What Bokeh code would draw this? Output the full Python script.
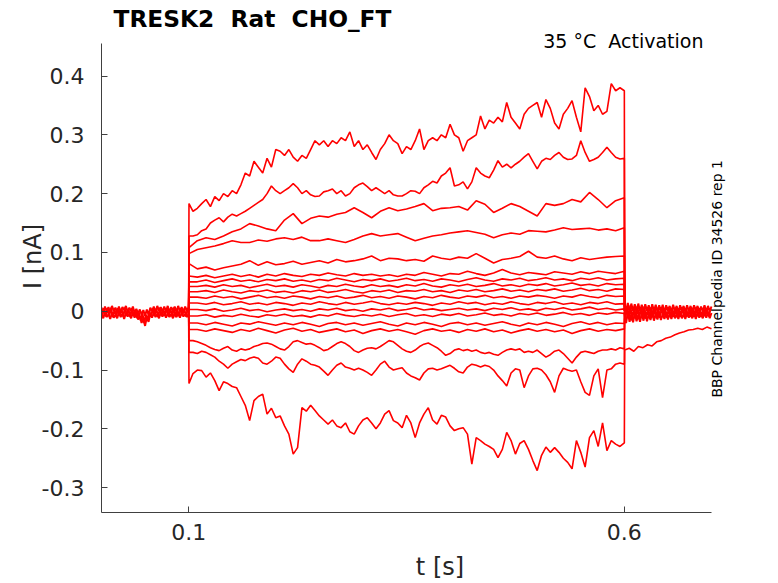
import numpy as np
from bokeh.plotting import figure
from bokeh.models import Label, Range1d, FixedTicker
from bokeh.embed import file_html
from bokeh.resources import INLINE

# ---------------- data ----------------
step_on = 0.1
step_off = 0.6
t_start, t_end = 0.0, 0.7
i_min, i_max = -0.3423, 0.4553

xtick_vals = [0.1, 0.6]
xtick_labels = ["0.1", "0.6"]
ytick_vals = [-0.3, -0.2, -0.1, 0.0, 0.1, 0.2, 0.3, 0.4]
ytick_labels = ["-0.3", "-0.2", "-0.1", "0", "0.1", "0.2", "0.3", "0.4"]

# baseline before the step (every 2 ms, 0 .. 0.1 s): noise band
base_hi = [0.006, -0.002, 0.008, 0.0, 0.007, -0.003, 0.009, 0.001, 0.006, -0.001,
           0.008, -0.002, 0.007, 0.002, 0.009, -0.001, 0.006, 0.0, 0.008, -0.003,
           0.004, -0.004, 0.003, -0.006, 0.002, -0.008, 0.003, -0.006, 0.006, 0.0,
           0.008, -0.002, 0.009, 0.001, 0.007, -0.001, 0.008, 0.0, 0.009, -0.002,
           0.007, 0.001, 0.008, -0.001, 0.009, 0.0, 0.007, -0.002, 0.008, 0.001, 0.006]
base_lo = [-0.004, -0.012, -0.002, -0.01, -0.005, -0.013, -0.003, -0.011, -0.006, -0.012,
           -0.002, -0.01, -0.004, -0.013, -0.003, -0.009, -0.005, -0.012, -0.002, -0.011,
           -0.004, -0.014, -0.008, -0.02, -0.012, -0.025, -0.01, -0.018, -0.004, -0.011,
           -0.003, -0.01, -0.005, -0.012, -0.002, -0.009, -0.004, -0.011, -0.003, -0.01,
           -0.005, -0.012, -0.002, -0.01, -0.004, -0.011, -0.003, -0.009, -0.005, -0.01, -0.004]
# (sampled half-way between, 0.001 .. 0.099 s)
base_mid = [-0.007, 0.005, -0.009, 0.004, -0.006, 0.006, -0.01, 0.003, -0.008, 0.005,
            -0.006, 0.004, -0.009, 0.006, -0.007, 0.003, -0.01, 0.005, -0.008, 0.002,
            -0.012, -0.002, -0.016, -0.004, -0.02, -0.006, -0.014, 0.0, -0.009, 0.005,
            -0.007, 0.004, -0.01, 0.006, -0.008, 0.003, -0.006, 0.005, -0.009, 0.004,
            -0.007, 0.006, -0.01, 0.003, -0.008, 0.005, -0.006, 0.004, -0.009, 0.005]

# tail after the step (every 2 ms, 0.6 .. 0.7 s)
tail_hi = [0.012, 0.0, 0.014, -0.002, 0.013, 0.001, 0.012, -0.003, 0.013, 0.0,
           0.011, -0.002, 0.012, 0.001, 0.01, -0.002, 0.012, 0.0, 0.011, -0.001,
           0.01, 0.0, 0.011, -0.002, 0.01, 0.001, 0.009, -0.001, 0.011, 0.0,
           0.009, -0.002, 0.01, 0.001, 0.009, -0.001, 0.01, 0.0, 0.009, -0.002,
           0.01, 0.001, 0.009, -0.001, 0.008, 0.0, 0.01, -0.001, 0.009, 0.0, 0.008]
tail_lo = [-0.004, -0.02, -0.002, -0.018, -0.005, -0.019, -0.003, -0.017, -0.006, -0.018,
           -0.004, -0.016, -0.002, -0.017, -0.005, -0.015, -0.003, -0.016, -0.004, -0.014,
           -0.002, -0.015, -0.005, -0.013, -0.003, -0.014, -0.004, -0.013, -0.002, -0.012,
           -0.004, -0.013, -0.003, -0.012, -0.005, -0.013, -0.002, -0.011, -0.004, -0.012,
           -0.003, -0.013, -0.002, -0.011, -0.004, -0.012, -0.003, -0.011, -0.002, -0.012, -0.003]
# (sampled half-way between, 0.601 .. 0.699 s)
tail_mid = [-0.015, 0.008, -0.012, 0.01, -0.016, 0.006, -0.013, 0.009, -0.014, 0.007,
            -0.011, 0.008, -0.013, 0.005, -0.012, 0.007, -0.01, 0.006, -0.012, 0.005,
            -0.011, 0.007, -0.009, 0.004, -0.011, 0.006, -0.01, 0.005, -0.009, 0.006,
            -0.011, 0.004, -0.008, 0.006, -0.01, 0.005, -0.009, 0.004, -0.01, 0.006,
            -0.008, 0.005, -0.009, 0.003, -0.01, 0.005, -0.008, 0.004, -0.009, 0.005]
# slow tail of the most negative sweep (every 5 ms, 0.605 .. 0.7 s)
tail_neg = [-0.066, -0.063, -0.068, -0.06, -0.062, -0.057, -0.059, -0.052, -0.05, -0.046,
            -0.044, -0.04, -0.037, -0.035, -0.032, -0.031, -0.029, -0.031, -0.027, -0.03]

# sweeps sampled every 5 ms (0.105 .. 0.6 s)
i_sweep01 = [0.17, 0.175, 0.183, 0.19, 0.178, 0.195, 0.188, 0.2, 0.195, 0.205,
             0.2, 0.215, 0.235, 0.23, 0.255, 0.245, 0.235, 0.26, 0.245, 0.275,
             0.272, 0.265, 0.275, 0.262, 0.255, 0.265, 0.26, 0.275, 0.29, 0.283,
             0.29, 0.28, 0.29, 0.285, 0.295, 0.29, 0.305, 0.28, 0.29, 0.275,
             0.283, 0.27, 0.258, 0.275, 0.285, 0.3, 0.29, 0.285, 0.268, 0.28,
             0.275, 0.29, 0.31, 0.275, 0.29, 0.295, 0.29, 0.3, 0.295, 0.318,
             0.3, 0.295, 0.272, 0.29, 0.295, 0.3, 0.332, 0.31, 0.325, 0.32,
             0.33, 0.322, 0.355, 0.33, 0.32, 0.31, 0.335, 0.345, 0.35, 0.355,
             0.33, 0.36, 0.345, 0.32, 0.31, 0.335, 0.345, 0.358, 0.33, 0.305,
             0.38, 0.365, 0.341, 0.35, 0.335, 0.34, 0.387, 0.375, 0.38, 0.375]
i_sweep02 = [0.128, 0.13, 0.137, 0.14, 0.15, 0.155, 0.159, 0.152, 0.16, 0.165,
             0.162, 0.166, 0.17, 0.175, 0.18, 0.185, 0.19, 0.2, 0.213, 0.205,
             0.2, 0.205, 0.21, 0.217, 0.21, 0.2, 0.205, 0.198, 0.195, 0.196,
             0.203, 0.205, 0.208, 0.2, 0.205, 0.196, 0.2, 0.21, 0.215, 0.218,
             0.212, 0.205, 0.21, 0.205, 0.2, 0.205, 0.198, 0.196, 0.196, 0.2,
             0.205, 0.204, 0.2, 0.21, 0.215, 0.221, 0.218, 0.23, 0.235, 0.244,
             0.213, 0.215, 0.22, 0.208, 0.22, 0.244, 0.235, 0.23, 0.227, 0.24,
             0.256, 0.245, 0.25, 0.244, 0.25, 0.255, 0.262, 0.268, 0.255, 0.242,
             0.255, 0.26, 0.258, 0.265, 0.27, 0.262, 0.258, 0.259, 0.265, 0.29,
             0.27, 0.255, 0.258, 0.262, 0.27, 0.279, 0.27, 0.262, 0.259, 0.26]
i_sweep16 = [-0.05, -0.052, -0.055, -0.058, -0.062, -0.065, -0.067, -0.063, -0.06, -0.066,
             -0.068, -0.064, -0.066, -0.064, -0.06, -0.058, -0.055, -0.054, -0.056, -0.06,
             -0.064, -0.066, -0.06, -0.052, -0.05, -0.053, -0.056, -0.055, -0.058, -0.062,
             -0.067, -0.065, -0.06, -0.055, -0.052, -0.055, -0.06, -0.067, -0.07, -0.066,
             -0.063, -0.062, -0.064, -0.06, -0.055, -0.05, -0.052, -0.058, -0.064, -0.068,
             -0.07, -0.066, -0.06, -0.056, -0.054, -0.058, -0.062, -0.068, -0.075, -0.072,
             -0.066, -0.064, -0.067, -0.065, -0.068, -0.066, -0.07, -0.072, -0.07, -0.073,
             -0.075, -0.07, -0.066, -0.064, -0.066, -0.064, -0.07, -0.068, -0.07, -0.066,
             -0.072, -0.078, -0.074, -0.068, -0.066, -0.072, -0.08, -0.088, -0.078, -0.07,
             -0.068, -0.07, -0.072, -0.068, -0.066, -0.066, -0.064, -0.066, -0.062, -0.064]
i_sweep17 = [-0.07, -0.072, -0.068, -0.07, -0.074, -0.078, -0.085, -0.09, -0.097, -0.09,
             -0.086, -0.082, -0.084, -0.08, -0.078, -0.08, -0.088, -0.09, -0.085, -0.078,
             -0.08, -0.09, -0.098, -0.104, -0.09, -0.081, -0.085, -0.09, -0.092, -0.095,
             -0.102, -0.109, -0.1, -0.092, -0.088, -0.095, -0.097, -0.1, -0.097, -0.1,
             -0.104, -0.109, -0.1, -0.09, -0.085, -0.095, -0.1, -0.098, -0.096, -0.105,
             -0.11, -0.113, -0.117, -0.105, -0.098, -0.097, -0.1, -0.098, -0.095, -0.092,
             -0.097, -0.103, -0.105, -0.095, -0.09, -0.092, -0.095, -0.092, -0.094, -0.1,
             -0.11, -0.118, -0.127, -0.105, -0.098, -0.1, -0.13, -0.11, -0.098, -0.097,
             -0.1, -0.108, -0.12, -0.138, -0.11, -0.097, -0.1, -0.102, -0.1, -0.12,
             -0.138, -0.143, -0.11, -0.098, -0.147, -0.1, -0.098, -0.09, -0.088, -0.09]
i_sweep18 = [-0.106, -0.1, -0.101, -0.112, -0.105, -0.118, -0.135, -0.12, -0.123, -0.128,
             -0.13, -0.145, -0.16, -0.186, -0.152, -0.145, -0.141, -0.175, -0.165, -0.181,
             -0.178, -0.195, -0.209, -0.243, -0.232, -0.164, -0.17, -0.16, -0.169, -0.178,
             -0.185, -0.192, -0.185, -0.195, -0.198, -0.19, -0.205, -0.209, -0.195, -0.185,
             -0.181, -0.19, -0.2, -0.19, -0.175, -0.169, -0.186, -0.19, -0.198, -0.177,
             -0.19, -0.215, -0.19, -0.175, -0.164, -0.185, -0.192, -0.177, -0.18, -0.195,
             -0.203, -0.2, -0.198, -0.209, -0.26, -0.215, -0.22, -0.226, -0.23, -0.235,
             -0.249, -0.235, -0.206, -0.22, -0.243, -0.225, -0.22, -0.235, -0.254, -0.271,
             -0.245, -0.231, -0.24, -0.232, -0.24, -0.25, -0.257, -0.268, -0.22, -0.24,
             -0.265, -0.215, -0.203, -0.23, -0.19, -0.237, -0.22, -0.226, -0.23, -0.224]

# sweeps sampled every 10 ms (0.11 .. 0.6 s)
i_sweep03 = [0.12, 0.125, 0.122, 0.128, 0.135, 0.14, 0.149, 0.145, 0.14, 0.137,
             0.155, 0.166, 0.149, 0.158, 0.162, 0.16, 0.165, 0.168, 0.176, 0.168,
             0.159, 0.17, 0.176, 0.171, 0.174, 0.178, 0.183, 0.171, 0.175, 0.176,
             0.178, 0.172, 0.188, 0.182, 0.168, 0.175, 0.183, 0.178, 0.17, 0.162,
             0.183, 0.18, 0.183, 0.19, 0.186, 0.202, 0.19, 0.176, 0.188, 0.193]
i_sweep04 = [0.105, 0.108, 0.111, 0.115, 0.12, 0.117, 0.117, 0.121, 0.119, 0.123,
             0.125, 0.122, 0.126, 0.12, 0.12, 0.123, 0.12, 0.117, 0.122, 0.128,
             0.132, 0.128, 0.13, 0.132, 0.126, 0.12, 0.124, 0.128, 0.13, 0.133,
             0.135, 0.137, 0.134, 0.131, 0.125, 0.13, 0.133, 0.131, 0.137, 0.136,
             0.135, 0.138, 0.142, 0.139, 0.14, 0.141, 0.138, 0.14, 0.137, 0.142]
i_sweep05 = [0.072, 0.075, 0.07, 0.074, 0.077, 0.08, 0.086, 0.078, 0.084, 0.079,
             0.081, 0.085, 0.08, 0.083, 0.086, 0.082, 0.088, 0.084, 0.086, 0.089,
             0.094, 0.086, 0.09, 0.089, 0.086, 0.088, 0.085, 0.094, 0.09, 0.088,
             0.092, 0.09, 0.098, 0.09, 0.082, 0.088, 0.09, 0.093, 0.102, 0.092,
             0.09, 0.094, 0.089, 0.086, 0.091, 0.088, 0.09, 0.092, 0.093, 0.094]
i_sweep06 = [0.058, 0.061, 0.057, 0.06, 0.063, 0.059, 0.062, 0.058, 0.063, 0.06,
             0.064, 0.061, 0.059, 0.063, 0.061, 0.065, 0.062, 0.06, 0.064, 0.061,
             0.063, 0.06, 0.062, 0.059, 0.063, 0.061, 0.066, 0.063, 0.06, 0.064,
             0.063, 0.068, 0.064, 0.061, 0.065, 0.071, 0.065, 0.062, 0.066, 0.064,
             0.062, 0.067, 0.065, 0.063, 0.067, 0.064, 0.068, 0.066, 0.064, 0.068]
i_sweep07 = [0.05, 0.053, 0.049, 0.052, 0.055, 0.051, 0.053, 0.05, 0.054, 0.052,
             0.055, 0.051, 0.053, 0.05, 0.054, 0.052, 0.056, 0.053, 0.05, 0.054,
             0.052, 0.055, 0.051, 0.053, 0.056, 0.052, 0.054, 0.051, 0.055, 0.053,
             0.05, 0.054, 0.057, 0.053, 0.051, 0.055, 0.053, 0.056, 0.052, 0.054,
             0.057, 0.053, 0.055, 0.052, 0.056, 0.054, 0.057, 0.053, 0.055, 0.056]
i_sweep08 = [0.042, 0.044, 0.041, 0.045, 0.042, 0.044, 0.04, 0.043, 0.046, 0.042,
             0.044, 0.041, 0.045, 0.043, 0.04, 0.044, 0.042, 0.046, 0.043, 0.041,
             0.045, 0.042, 0.044, 0.041, 0.045, 0.043, 0.047, 0.043, 0.041, 0.045,
             0.043, 0.046, 0.042, 0.044, 0.047, 0.043, 0.045, 0.042, 0.046, 0.044,
             0.047, 0.043, 0.045, 0.048, 0.044, 0.046, 0.043, 0.047, 0.045, 0.046]
i_sweep09 = [0.033, 0.035, 0.032, 0.036, 0.033, 0.031, 0.035, 0.033, 0.036, 0.032,
             0.034, 0.031, 0.035, 0.033, 0.036, 0.032, 0.034, 0.037, 0.033, 0.031,
             0.035, 0.033, 0.036, 0.032, 0.035, 0.034, 0.037, 0.033, 0.035, 0.032,
             0.036, 0.034, 0.037, 0.033, 0.035, 0.038, 0.034, 0.036, 0.033, 0.037,
             0.035, 0.038, 0.034, 0.036, 0.039, 0.035, 0.037, 0.034, 0.038, 0.037]
i_sweep10 = [0.024, 0.022, 0.026, 0.023, 0.025, 0.021, 0.024, 0.027, 0.023, 0.025,
             0.022, 0.026, 0.024, 0.021, 0.025, 0.023, 0.026, 0.022, 0.024, 0.027,
             0.023, 0.025, 0.022, 0.026, 0.024, 0.021, 0.025, 0.023, 0.027, 0.024,
             0.022, 0.026, 0.024, 0.027, 0.023, 0.025, 0.022, 0.026, 0.024, 0.027,
             0.025, 0.022, 0.026, 0.024, 0.028, 0.025, 0.023, 0.027, 0.025, 0.026]
i_sweep11 = [0.014, 0.012, 0.015, 0.011, 0.013, 0.016, 0.012, 0.014, 0.011, 0.015,
             0.013, 0.01, 0.014, 0.012, 0.016, 0.013, 0.011, 0.015, 0.012, 0.014,
             0.017, 0.013, 0.011, 0.014, 0.012, 0.015, 0.013, 0.01, 0.014, 0.012,
             0.016, 0.013, 0.015, 0.011, 0.014, 0.012, 0.016, 0.013, 0.011, 0.015,
             0.013, 0.016, 0.012, 0.014, 0.011, 0.015, 0.013, 0.016, 0.012, 0.013]
i_sweep12 = [0.003, 0.001, 0.004, 0.0, 0.002, 0.005, 0.001, 0.003, -0.001, 0.002,
             0.004, 0.001, 0.003, 0.0, 0.004, 0.002, 0.005, 0.001, 0.003, 0.0,
             0.004, 0.002, 0.005, 0.001, 0.003, 0.006, 0.002, 0.004, 0.001, 0.003,
             0.005, 0.002, 0.004, 0.001, 0.005, 0.003, 0.006, 0.002, 0.004, 0.001,
             0.005, 0.003, 0.006, 0.002, 0.004, 0.007, 0.003, 0.005, 0.002, 0.004]
i_sweep13 = [-0.008, -0.006, -0.01, -0.007, -0.009, -0.005, -0.008, -0.01, -0.006, -0.008,
             -0.005, -0.009, -0.007, -0.01, -0.006, -0.008, -0.004, -0.007, -0.009, -0.006,
             -0.008, -0.005, -0.009, -0.006, -0.004, -0.008, -0.006, -0.009, -0.005, -0.007,
             -0.004, -0.008, -0.006, -0.003, -0.007, -0.005, -0.008, -0.004, -0.006, -0.003,
             -0.007, -0.005, -0.002, -0.006, -0.004, -0.007, -0.003, -0.005, -0.002, -0.004]
i_sweep14 = [-0.02, -0.023, -0.019, -0.022, -0.025, -0.02, -0.022, -0.018, -0.021, -0.024,
             -0.02, -0.023, -0.019, -0.022, -0.026, -0.021, -0.019, -0.023, -0.02, -0.024,
             -0.021, -0.018, -0.022, -0.025, -0.02, -0.023, -0.019, -0.022, -0.026, -0.021,
             -0.019, -0.023, -0.02, -0.024, -0.021, -0.018, -0.022, -0.025, -0.02, -0.023,
             -0.019, -0.022, -0.026, -0.021, -0.018, -0.022, -0.019, -0.023, -0.02, -0.021]
i_sweep15 = [-0.031, -0.034, -0.03, -0.033, -0.036, -0.031, -0.034, -0.029, -0.033, -0.037,
             -0.032, -0.029, -0.034, -0.031, -0.036, -0.033, -0.03, -0.035, -0.032, -0.038,
             -0.033, -0.03, -0.034, -0.031, -0.035, -0.039, -0.033, -0.03, -0.034, -0.032,
             -0.036, -0.031, -0.034, -0.03, -0.035, -0.032, -0.037, -0.033, -0.03, -0.034,
             -0.031, -0.035, -0.032, -0.038, -0.033, -0.03, -0.034, -0.031, -0.033, -0.03]

fine_sweeps = [i_sweep01, i_sweep02, i_sweep16, i_sweep17, i_sweep18]
fine_onset = [0.183, 0.128, -0.05, -0.07, -0.123]
coarse_sweeps = [i_sweep03, i_sweep04, i_sweep05, i_sweep06, i_sweep07, i_sweep08,
                 i_sweep09, i_sweep10, i_sweep11, i_sweep12, i_sweep13, i_sweep14, i_sweep15]
coarse_onset = [0.108, 0.098, 0.081, 0.06, 0.05, 0.042, 0.033, 0.024, 0.014, 0.003,
                -0.008, -0.02, -0.031]

title_text = "TRESK2 \u00a0Rat \u00a0CHO_FT"
cond_text = "35 °C \u00a0Activation"
id_text = "BBP Channelpedia ID 34526 rep 1"

RED = "#ff0000"
LW = 1.6
LW_BAND = 2.0

W, H = 778, 583
LEFT, BOTTOM = 101, 71
PX_PER_S = 871.4
PX_PER_NA = 588.0
frame_w = W - LEFT
frame_h = H - BOTTOM
x_hi = t_start + frame_w / PX_PER_S
y_hi = i_min + frame_h / PX_PER_NA

p = figure(width=W, height=H, output_backend="svg", toolbar_location=None,
           x_range=Range1d(t_start, x_hi), y_range=Range1d(i_min, y_hi),
           min_border_left=LEFT, min_border_right=0, min_border_top=0,
           min_border_bottom=BOTTOM)
p.background_fill_color = "white"
p.border_fill_color = "white"
p.outline_line_color = None
p.xgrid.grid_line_color = None
p.ygrid.grid_line_color = None

# baseline and tail bands
p.line(np.linspace(t_start, step_on, len(base_hi)), base_hi, line_color=RED, line_width=LW_BAND)
p.line(np.linspace(t_start, step_on, len(base_lo)), base_lo, line_color=RED, line_width=LW_BAND)
p.line(np.linspace(0.001, 0.099, len(base_mid)), base_mid, line_color=RED, line_width=LW_BAND)
p.line(np.linspace(step_off, t_end, len(tail_hi)), tail_hi, line_color=RED, line_width=LW_BAND)
p.line(np.linspace(step_off, t_end, len(tail_lo)), tail_lo, line_color=RED, line_width=LW_BAND)
p.line(np.linspace(0.601, 0.699, len(tail_mid)), tail_mid, line_color=RED, line_width=LW_BAND)

def draw_sweep(vals, t0, onset, tail=None):
    t = list(np.linspace(t0, step_off, len(vals)))
    xs = [step_on, step_on + 0.0004] + t
    ys = [0.0, onset] + list(vals)
    if tail is None:
        xs += [step_off + 0.0004]
        ys += [0.0]
    else:
        xs += list(np.linspace(step_off + 0.0004, t_end, len(tail)))
        ys += list(tail)
    p.line(xs, ys, line_color=RED, line_width=LW)

for k, (v, o) in enumerate(zip(fine_sweeps, fine_onset)):
    draw_sweep(v, 0.105, o, tail_neg if k == len(fine_sweeps) - 1 else None)
for v, o in zip(coarse_sweeps, coarse_onset):
    draw_sweep(v, 0.11, o)

# axes styling
AX = "#404040"
TXT = "#262626"
FONT = "DejaVu Sans"
for ax in (p.xaxis[0], p.yaxis[0]):
    ax.axis_line_color = AX
    ax.major_tick_line_color = AX
    ax.major_tick_in = 6
    ax.major_tick_out = 0
    ax.minor_tick_line_color = None
    ax.major_label_text_font = FONT
    ax.major_label_text_font_size = "22px"
    ax.major_label_text_color = TXT
    ax.axis_label_text_font = FONT
    ax.axis_label_text_font_size = "24px"
    ax.axis_label_text_font_style = "normal"
    ax.axis_label_text_color = TXT

p.xaxis.bounds = (t_start, t_end)
p.yaxis.bounds = (i_min, i_max)
p.xaxis.ticker = FixedTicker(ticks=xtick_vals)
p.xaxis.major_label_overrides = dict(zip(xtick_vals, xtick_labels))
p.yaxis.ticker = FixedTicker(ticks=ytick_vals)
p.yaxis.major_label_overrides = dict(zip(ytick_vals, ytick_labels))
p.xaxis.axis_label = "t [s]"
p.yaxis.axis_label = "I [nA]"
p.xaxis.major_label_standoff = 11
p.xaxis.axis_label_standoff = 10
p.yaxis.major_label_standoff = 17
p.yaxis.axis_label_standoff = -8

p.add_layout(Label(x=0.0138, y=0.4978, text=title_text, text_font=FONT,
                   text_font_style="bold", text_font_size="23.3px", text_color="black",
                   text_align="left", text_baseline="middle"))
p.add_layout(Label(x=0.6908, y=0.4599, text=cond_text, text_font=FONT,
                   text_font_size="19px", text_color="black",
                   text_align="right", text_baseline="middle"))
p.add_layout(Label(x=0.7069, y=0.0551, text=id_text, text_font=FONT,
                   text_font_size="14px", text_color="black", angle=np.pi / 2,
                   text_align="center", text_baseline="middle"))

open("out.html", "w").write(file_html(p, INLINE))
